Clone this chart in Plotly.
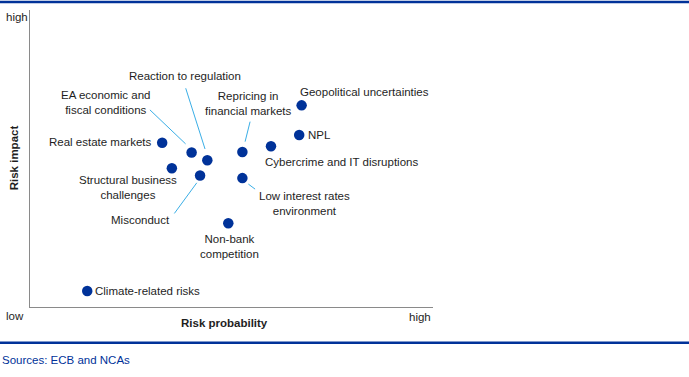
import plotly.graph_objects as go

# ---- data ----
risks = ["Geopolitical uncertainties", "NPL", "Cybercrime and IT disruptions",
         "Repricing in financial markets", "Low interest rates environment",
         "Non-bank competition", "Reaction to regulation",
         "EA economic and fiscal conditions", "Real estate markets",
         "Structural business challenges", "Misconduct", "Climate-related risks"]
risk_probability = [67.4, 66.8, 59.8, 52.7, 52.7, 49.2, 44.0, 40.1, 32.8, 35.2, 42.2, 14.2]
risk_impact = [67.9, 57.9, 54.1, 52.2, 43.4, 28.2, 49.4, 52.0, 55.3, 46.7, 44.3, 5.4]

# ---- label placement (pixel offsets from the dot; y up) ----
label_text = {
    "Geopolitical uncertainties": "Geopolitical uncertainties",
    "NPL": "NPL",
    "Cybercrime and IT disruptions": "Cybercrime and IT disruptions",
    "Repricing in financial markets": "Repricing in<br>financial markets",
    "Low interest rates environment": "Low interest rates<br>environment",
    "Non-bank competition": "Non-bank<br>competition",
    "Reaction to regulation": "Reaction to regulation",
    "EA economic and fiscal conditions": "EA economic and<br>fiscal conditions",
    "Real estate markets": "Real estate markets",
    "Structural business challenges": "Structural business<br>challenges",
    "Misconduct": "Misconduct",
    "Climate-related risks": "Climate-related risks",
}
label_pos = {  # (xanchor, xshift, yshift)
    "Geopolitical uncertainties": ("left", -4, 13),
    "NPL": ("left", 7, 0),
    "Cybercrime and IT disruptions": ("left", -8, -15.4),
    "Repricing in financial markets": ("center", 6, 48.6),
    "Low interest rates environment": ("center", 61.7, -25),
    "Non-bank competition": ("center", 1, -23.4),
    "Reaction to regulation": ("center", -22.6, 84.3),
    "EA economic and fiscal conditions": ("center", -85.2, 50.5),
    "Real estate markets": ("right", -8, 1),
    "Structural business challenges": ("center", -43.7, -18.7),
    "Misconduct": ("center", -59.2, -44.7),
    "Climate-related risks": ("left", 6, 0),
}
# leader lines: (start dx, start dy, end dx, end dy) in pixels, screen y down
leaders = {
    "EA economic and fiscal conditions": (-41.7, -42.7, -6, -8.7),
    "Reaction to regulation": (-21.6, -72, -2.3, -11.3),
    "Repricing in financial markets": (7.7, -30.3, 2.7, -10.3),
    "Low interest rates environment": (6, 6, 12.7, 11),
    "Misconduct": (-3.3, 7.4, -25.7, 38),
}

W, H = 689, 377
ML, MR, MT, MB = 30, 256, 10, 70
PW, PH = W - ML - MR, H - MT - MB
XR, YR = [0, 100], [0, 100]
px_x = PW / (XR[1] - XR[0])
px_y = PH / (YR[1] - YR[0])

DOT = "#003299"
LEAD = "#3aaee6"
TXT = "#1e1e1e"
FONT = "Liberation Sans, Arial, sans-serif"
FS = 11.5

fig = go.Figure()

# leader lines
lx, ly = [], []
for name, (sx, sy, ex, ey) in leaders.items():
    i = risks.index(name)
    x0, y0 = risk_probability[i], risk_impact[i]
    lx += [x0 + sx / px_x, x0 + ex / px_x, None]
    ly += [y0 - sy / px_y, y0 - ey / px_y, None]
fig.add_trace(go.Scatter(x=lx, y=ly, mode="lines", line=dict(color=LEAD, width=1),
                         hoverinfo="skip", showlegend=False, cliponaxis=False))

fig.add_trace(go.Scatter(x=risk_probability, y=risk_impact, mode="markers",
                         marker=dict(color=DOT, size=10.5, line=dict(width=0)),
                         text=risks, hoverinfo="text", showlegend=False, cliponaxis=False))

annotations = []
for i, name in enumerate(risks):
    xa, xs, ys = label_pos[name]
    annotations.append(dict(x=risk_probability[i], y=risk_impact[i], xref="x", yref="y",
                            text=label_text[name], showarrow=False, xanchor=xa, yanchor="middle",
                            xshift=xs, yshift=ys, align="center",
                            font=dict(family=FONT, size=FS, color=TXT)))

def paper_x(px):
    return (px - ML) / PW

def paper_y(py):
    return (H - MB - py) / PH

annotations += [
    dict(x=paper_x(4), y=paper_y(17), xref="paper", yref="paper", text="high", showarrow=False,
         xanchor="left", yanchor="middle", font=dict(family=FONT, size=FS, color=TXT)),
    dict(x=paper_x(4), y=paper_y(316), xref="paper", yref="paper", text="low", showarrow=False,
         xanchor="left", yanchor="middle", font=dict(family=FONT, size=FS, color=TXT)),
    dict(x=paper_x(433), y=paper_y(316.7), xref="paper", yref="paper", text="high", showarrow=False,
         xanchor="right", yanchor="middle", font=dict(family=FONT, size=FS, color=TXT)),
    dict(x=paper_x(224), y=paper_y(322.7), xref="paper", yref="paper", text="<b>Risk probability</b>",
         showarrow=False, xanchor="center", yanchor="middle", font=dict(family=FONT, size=FS, color=TXT)),
    dict(x=paper_x(14), y=paper_y(158.3), xref="paper", yref="paper", text="<b>Risk impact</b>",
         showarrow=False, xanchor="center", yanchor="middle", textangle=-90,
         font=dict(family=FONT, size=FS, color=TXT)),
    dict(x=paper_x(0), y=paper_y(360), xref="paper", yref="paper", text="Sources: ECB and NCAs",
         showarrow=False, xanchor="left", yanchor="middle", font=dict(family=FONT, size=FS, color="#003299")),
]

shapes = [
    dict(type="line", xref="paper", yref="paper", x0=paper_x(0), x1=paper_x(W), y0=paper_y(2), y1=paper_y(2),
         line=dict(color="#003299", width=2.5)),
    dict(type="line", xref="paper", yref="paper", x0=paper_x(0), x1=paper_x(W), y0=paper_y(342.7), y1=paper_y(342.7),
         line=dict(color="#003299", width=2.5)),
]

fig.update_layout(
    width=W, height=H, margin=dict(l=ML, r=MR, t=MT, b=MB, pad=0),
    paper_bgcolor="white", plot_bgcolor="white",
    xaxis=dict(range=XR, showline=True, linecolor="#8a8a8a", linewidth=1.3, showgrid=False,
               zeroline=False, showticklabels=False, ticks="", fixedrange=True),
    yaxis=dict(range=YR, showline=True, linecolor="#8a8a8a", linewidth=1.3, showgrid=False,
               zeroline=False, showticklabels=False, ticks="", fixedrange=True),
    annotations=annotations, shapes=shapes,
    font=dict(family=FONT, size=FS, color=TXT),
)

fig.write_html("out.html", config={"displayModeBar": False},
               post_script="document.body.style.margin='0';document.body.style.overflow='hidden';")
